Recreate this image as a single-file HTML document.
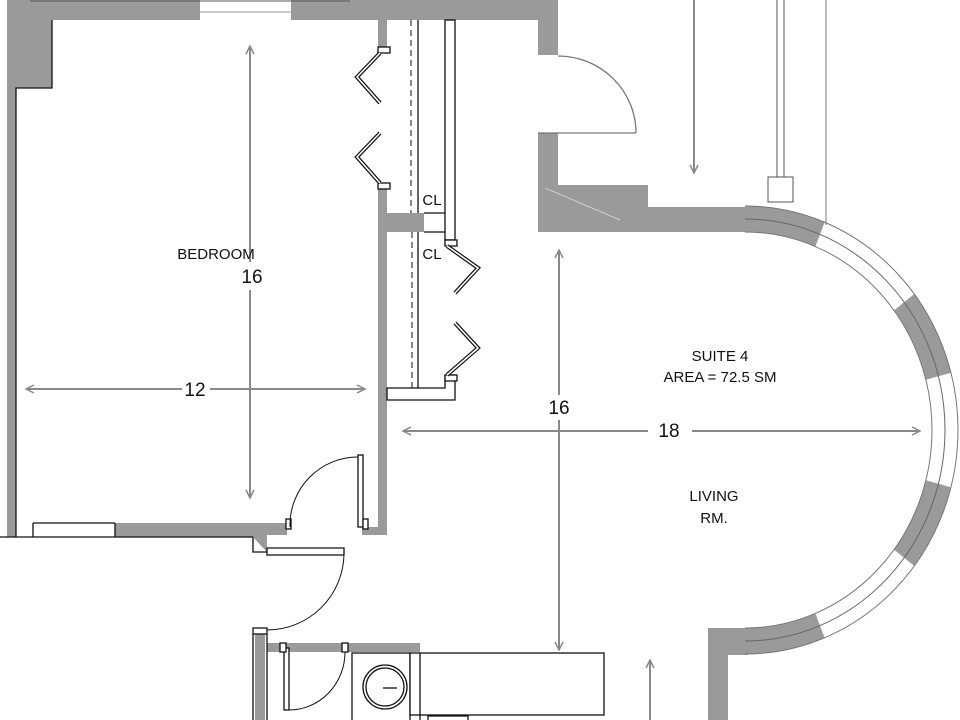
<!DOCTYPE html>
<html><head><meta charset="utf-8"><style>html,body{margin:0;padding:0;background:#fff;overflow:hidden;width:960px;height:720px}svg{display:block}text{font-family:"Liberation Sans",sans-serif;fill:#111}</style></head>
<body>
<svg width="960" height="720" viewBox="0 0 960 720" xmlns="http://www.w3.org/2000/svg">
<defs>
<marker id="ar" viewBox="0 0 10 10" refX="9" refY="5" markerWidth="5" markerHeight="5" orient="auto-start-reverse"><path d="M1,1 L9,5 L1,9" fill="none" stroke="#888" stroke-width="1.5"/></marker>
<clipPath id="ring"><path fill-rule="evenodd" clip-rule="evenodd" d="M745,206 A213,224 0 0 1 745,654 L745,628 A187,198 0 0 0 745,232 Z"/></clipPath>
</defs>
<g fill="#9a9a9a">
<rect x="7" y="0" width="551" height="20"/>
<rect x="7" y="0" width="45" height="88"/>
<rect x="7" y="88" width="9" height="449"/>
<rect x="538" y="0" width="20" height="55"/>
<rect x="538" y="133" width="20" height="99"/>
<rect x="538" y="185" width="110" height="47"/>
<rect x="640" y="207" width="110" height="25"/>
<path fill-rule="evenodd" d="M745,206 A213,224 0 0 1 745,654 L745,628 A187,198 0 0 0 745,232 Z"/>
<rect x="708" y="628" width="40" height="27"/>
<rect x="708" y="628" width="20" height="92"/>
<rect x="378" y="20" width="9" height="30"/>
<rect x="378" y="188" width="9" height="347"/>
<rect x="378" y="213" width="46" height="19"/>
<rect x="115" y="523" width="138" height="14"/>
<rect x="253" y="523" width="14" height="29"/>
<rect x="267" y="523" width="20" height="12"/>
<rect x="362" y="527" width="25" height="8"/>
<rect x="255" y="630" width="10" height="90"/>
<rect x="267" y="643" width="153" height="9"/>
</g>
<rect x="200" y="0" width="91" height="20" fill="#fff"/>
<line x1="200" y1="12" x2="291" y2="12" stroke="#999"/>
<line x1="30" y1="1" x2="350" y2="1" stroke="#555"/>
<line x1="545" y1="188" x2="620" y2="220" stroke="#ccc"/>
<g clip-path="url(#ring)" fill="#fff">
<polygon points="745,430 888,57 1055,181"/>
<polygon points="745,430 1130,323 1130,537"/>
<polygon points="745,430 1055,679 888,803"/>
</g>
<g clip-path="url(#ring)" fill="none" stroke="#666" stroke-width="1">
<path d="M745,219 A200,211 0 0 1 745,641"/>
</g>
<path d="M745,206 A213,224 0 0 1 745,654 M745,232 A187,198 0 0 1 745,628" fill="none" stroke="#777" stroke-width="1"/>
<line x1="826" y1="0" x2="826" y2="225" stroke="#777"/>
<line x1="777" y1="0" x2="777" y2="177" stroke="#555"/>
<line x1="784" y1="0" x2="784" y2="177" stroke="#555"/>
<rect x="768" y="177" width="25" height="25" fill="#fff" stroke="#555"/>
<g fill="none" stroke="#111" stroke-width="1.3">
<path d="M16,537 L16,88 L52,88 L52,20"/>
<line x1="0" y1="537" x2="253" y2="537"/>
<line x1="33" y1="523" x2="115" y2="523"/>
<line x1="33" y1="523" x2="33" y2="537"/><line x1="115" y1="523" x2="115" y2="537"/>
<rect x="445" y="20" width="10" height="220" fill="#fff"/>
<line x1="424" y1="213" x2="445" y2="213"/>
<line x1="424" y1="232" x2="445" y2="232"/>
<line x1="418" y1="20" x2="418" y2="213"/>
<line x1="418" y1="232" x2="418" y2="388"/>
<path d="M387,388 L445,388 L445,375 L455,375 L455,400 L387,400 Z" fill="#fff"/>
<rect x="378" y="47" width="12" height="6" fill="#fff"/>
<rect x="378" y="183" width="12" height="6" fill="#fff"/>
<rect x="445" y="240" width="12" height="6" fill="#fff"/>
<rect x="445" y="375" width="12" height="6" fill="#fff"/>
<rect x="358" y="455" width="5" height="72" fill="#fff"/>
<rect x="286" y="519" width="5" height="10" fill="#fff"/>
<rect x="363" y="519" width="5" height="10" fill="#fff"/>
<path d="M290,527 A68,68 0 0 1 358,457" stroke-width="1"/>
<path d="M253,537 L253,552 L267,552 M267,548 L344,548 L344,555 L267,555 Z" fill="#fff"/>
<path d="M344,553 A77,77 0 0 1 267,630" stroke-width="1"/>
<rect x="253" y="628" width="14" height="6" fill="#fff"/>
<line x1="253" y1="634" x2="253" y2="720"/>
<line x1="267" y1="634" x2="267" y2="720"/>
<rect x="284" y="648" width="5" height="62" fill="#fff"/>
<rect x="280" y="643" width="6" height="9" fill="#fff"/>
<rect x="342" y="643" width="6" height="9" fill="#fff"/>
<path d="M345,652 A56,58 0 0 1 289,710" stroke-width="1"/>
<rect x="352" y="653" width="58" height="70" fill="#fff"/>
<circle cx="385" cy="687" r="22"/><circle cx="385" cy="687" r="19"/>
<line x1="383" y1="688" x2="397" y2="688"/>
<rect x="410" y="653" width="194" height="62" fill="#fff"/>
<line x1="420" y1="653" x2="420" y2="720"/>
<path d="M428,720 L428,716 L468,716 L468,720"/>
</g>
<line x1="411" y1="20" x2="411" y2="213" stroke="#111" stroke-dasharray="6,4"/>
<line x1="412" y1="232" x2="412" y2="388" stroke="#111" stroke-dasharray="6,4"/>
<g fill="none" stroke="#111" stroke-width="4"><path d="M380,53 L357,77 L380,103 M380,133 L357,157 L380,183 M447,246 L478,268 L455,293 M455,323 L478,348 L447,375"/></g>
<g fill="none" stroke="#fff" stroke-width="1.6"><path d="M380,53 L357,77 L380,103 M380,133 L357,157 L380,183 M447,246 L478,268 L455,293 M455,323 L478,348 L447,375"/></g>
<line x1="538" y1="133" x2="636" y2="133" stroke="#777" stroke-width="1.3"/>
<path d="M558,56 A78,77 0 0 1 636,133" fill="none" stroke="#777" stroke-width="1.3"/>
<g stroke="#888" stroke-width="2" fill="none" marker-end="url(#ar)">
<line x1="250" y1="262" x2="250" y2="46" /><line x1="250" y1="290" x2="250" y2="498"/>
<line x1="182" y1="389" x2="26" y2="389"/><line x1="210" y1="389" x2="365" y2="389"/>
<line x1="559" y1="395" x2="559" y2="250"/><line x1="559" y1="420" x2="559" y2="650"/>
<line x1="648" y1="431" x2="403" y2="431"/><line x1="692" y1="431" x2="920" y2="431"/>
<line x1="694" y1="0" x2="694" y2="173"/>
<line x1="650" y1="720" x2="650" y2="660"/>
</g>
<g font-size="15" text-anchor="middle">
<text x="216" y="259">BEDROOM</text>
<text x="432" y="205">CL</text>
<text x="432" y="259">CL</text>
<text x="720" y="361">SUITE 4</text>
<text x="720" y="382">AREA = 72.5 SM</text>
<text x="714" y="501">LIVING</text>
<text x="714" y="523">RM.</text>
</g>
<g font-size="19" text-anchor="middle">
<text x="252" y="283">16</text>
<text x="195" y="396">12</text>
<text x="559" y="414">16</text>
<text x="669" y="437">18</text>
</g>
</svg>
</body></html>
